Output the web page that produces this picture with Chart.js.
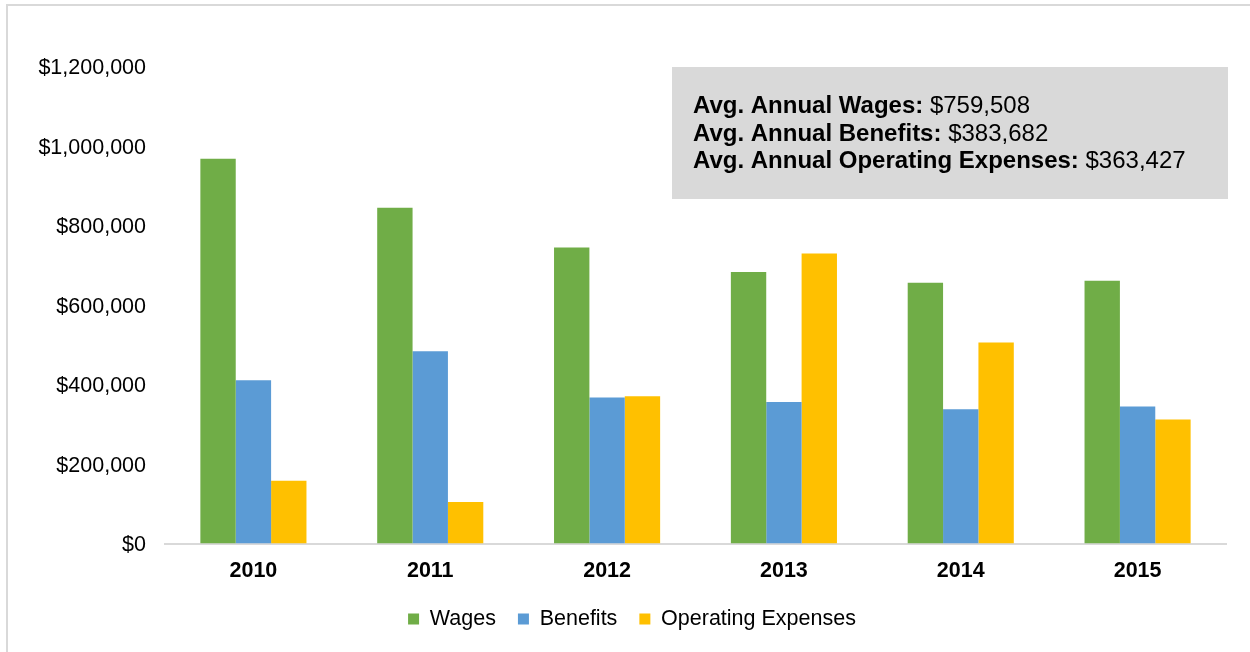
<!DOCTYPE html>
<html>
<head>
<meta charset="utf-8">
<script src="https://cdn.jsdelivr.net/npm/chart.js@4.4.1/dist/chart.umd.min.js"></script>
<style>
  html, body { margin: 0; padding: 0; background: #ffffff; }
  #wrap { position: relative; width: 1250px; height: 652px; }
  canvas { display: block; }
</style>
</head>
<body>
<div id="wrap"><canvas id="c" width="1250" height="652"></canvas></div>
<script>
const categories = ['2010', '2011', '2012', '2013', '2014', '2015'];
const seriesNames = ['Wages', 'Benefits', 'Operating Expenses'];
const wages = [966600, 843700, 744000, 682100, 655500, 660500];
const benefits = [410300, 483100, 366900, 355800, 337500, 344300];
const operatingExpenses = [157600, 104100, 370100, 729000, 504900, 311700];
const yTicks = [0, 200000, 400000, 600000, 800000, 1000000, 1200000];
const avgLabels = ['Avg. Annual Wages:', 'Avg. Annual Benefits:', 'Avg. Annual Operating Expenses:'];
const avgValues = ['$759,508', '$383,682', '$363,427'];

const FONT = '"Liberation Sans", Arial, sans-serif';
const colors = ['#70AD47', '#5B9BD5', '#FFC000'];

const framePlugin = {
  id: 'frame',
  beforeDraw(chart) {
    const ctx = chart.ctx;
    ctx.save();
    ctx.fillStyle = '#ffffff';
    ctx.fillRect(0, 0, chart.width, chart.height);
    ctx.strokeStyle = '#d9d9d9';
    ctx.lineWidth = 2;
    ctx.beginPath();
    ctx.moveTo(7, chart.height);
    ctx.lineTo(7, 5);
    ctx.lineTo(chart.width, 5);
    ctx.stroke();
    ctx.restore();
  }
};

const avgBoxPlugin = {
  id: 'avgBox',
  afterDraw(chart) {
    const ctx = chart.ctx;
    const a = chart.chartArea;
    const left = 672, top = a.top + 1, right = a.right + 2, bottom = top + 132;
    ctx.save();
    ctx.fillStyle = '#d9d9d9';
    ctx.fillRect(left, top, right - left, bottom - top);
    ctx.textBaseline = 'middle';
    ctx.fillStyle = '#000000';
    const lineYs = [top + 39.5, top + 67, top + 94.5];
    for (let i = 0; i < avgLabels.length; i++) {
      ctx.font = 'bold 24px ' + FONT;
      ctx.fillText(avgLabels[i], 693, lineYs[i]);
      const w = ctx.measureText(avgLabels[i]).width;
      ctx.font = '24px ' + FONT;
      const sp = ctx.measureText(' ').width;
      ctx.fillText(avgValues[i], 693 + w + sp, lineYs[i]);
    }
    ctx.restore();
  }
};

new Chart(document.getElementById('c'), {
  type: 'bar',
  data: {
    labels: categories,
    datasets: [
      { label: seriesNames[0], data: wages, backgroundColor: colors[0] },
      { label: seriesNames[1], data: benefits, backgroundColor: colors[1] },
      { label: seriesNames[2], data: operatingExpenses, backgroundColor: colors[2] }
    ]
  },
  options: {
    responsive: false,
    animation: false,
    devicePixelRatio: 1,
    layout: { padding: { left: 38, right: 24, top: 66, bottom: 12.25 } },
    datasets: { bar: { categoryPercentage: 0.6, barPercentage: 1.0 } },
    scales: {
      x: {
        afterFit(scale) { scale.height = 42.75; },
        grid: { display: false, drawTicks: false },
        border: { display: true, color: '#d9d9d9', width: 2 },
        ticks: { color: '#000000', padding: 15, font: { family: FONT, size: 21.5, weight: 'bold' } }
      },
      y: {
        min: 0,
        max: 1200000,
        afterBuildTicks(scale) { scale.ticks = yTicks.map(v => ({ value: v })); },
        afterFit(scale) { scale.width = 127; },
        grid: { display: false, drawTicks: false },
        border: { display: false },
        ticks: {
          color: '#000000',
          padding: 19,
          labelOffset: 2,
          font: { family: FONT, size: 21.5 },
          callback: v => '$' + Number(v).toLocaleString('en-US')
        }
      }
    },
    plugins: {
      tooltip: { enabled: false },
      legend: {
        position: 'bottom',
        labels: {
          color: '#000000',
          boxWidth: 11,
          boxHeight: 11,
          padding: 22,
          font: { family: FONT, size: 21.5 }
        }
      }
    }
  },
  plugins: [framePlugin, avgBoxPlugin]
});
</script>
</body>
</html>
